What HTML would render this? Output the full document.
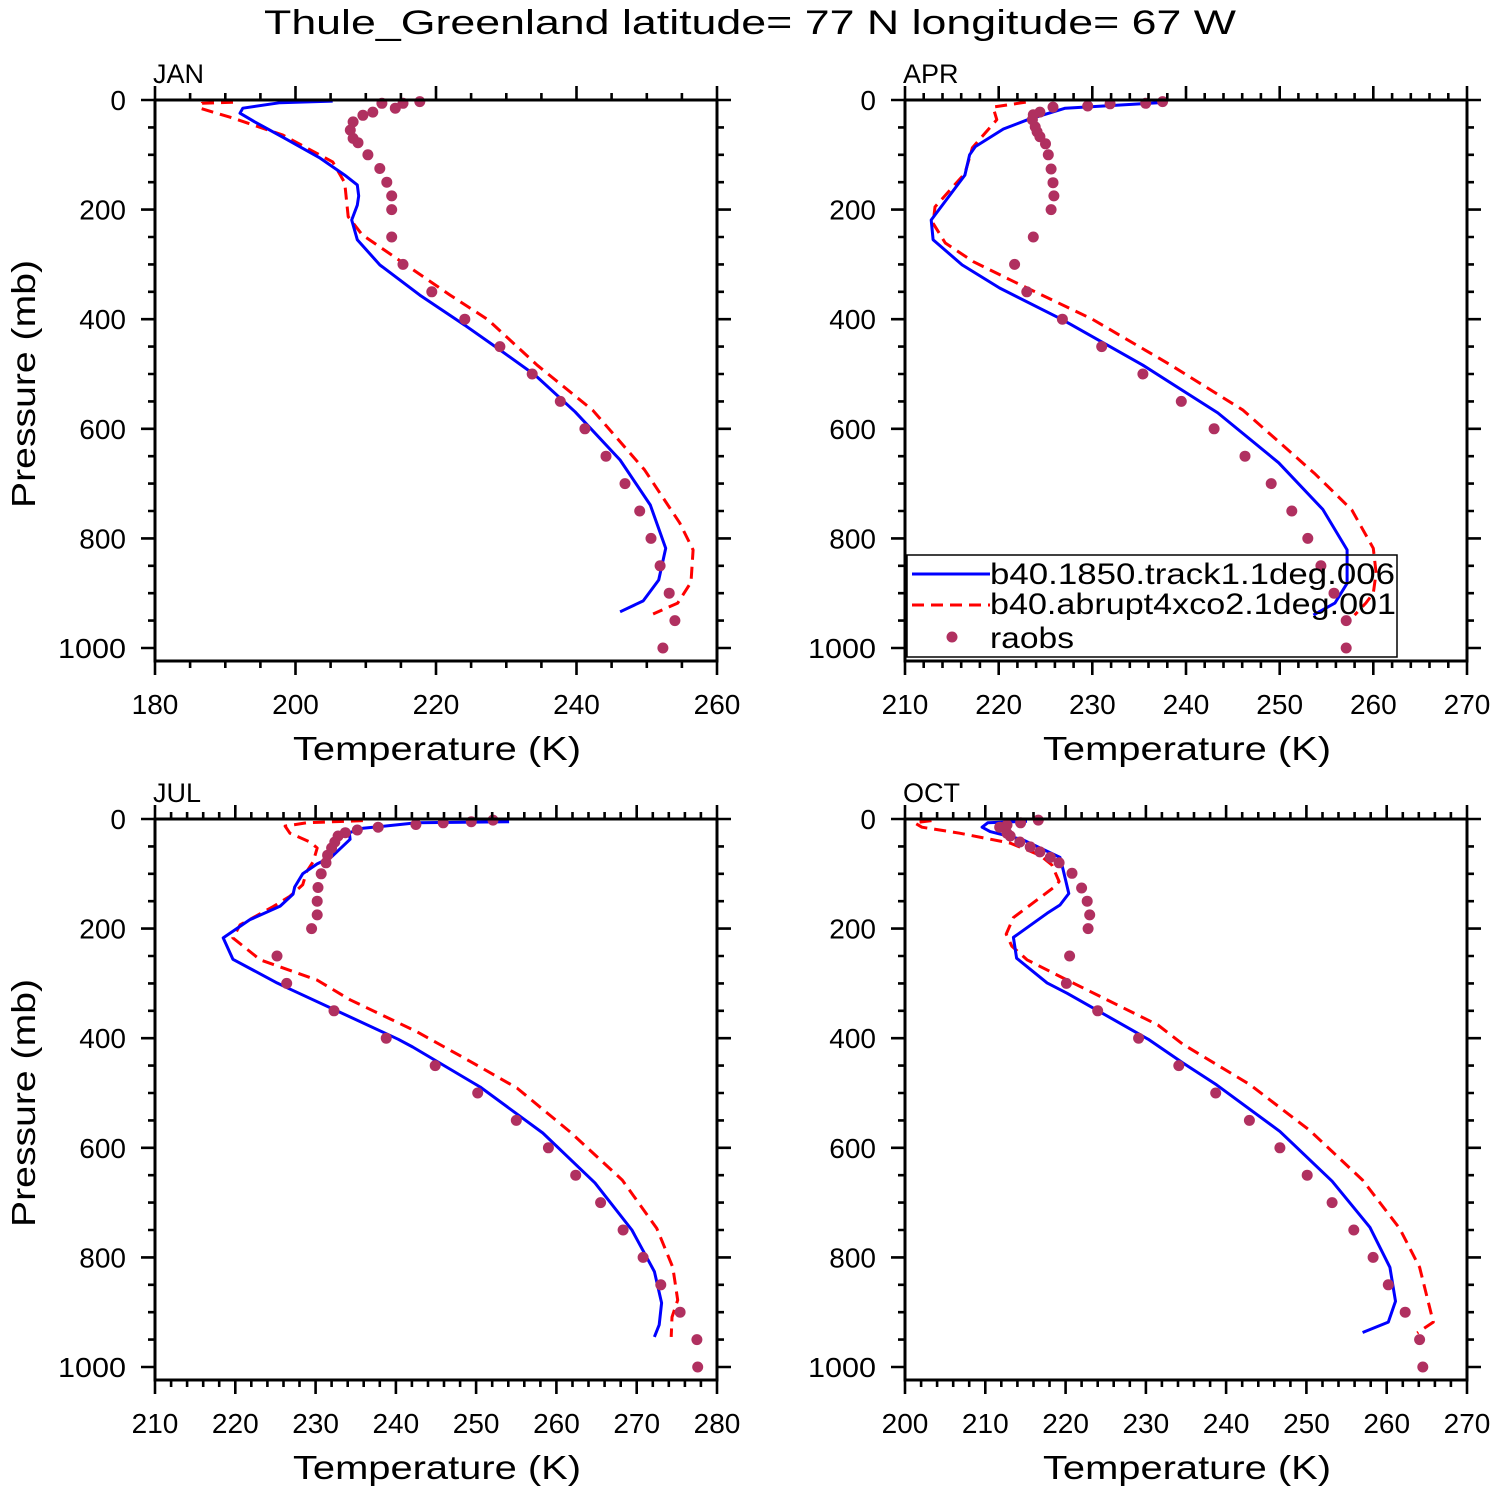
<!DOCTYPE html>
<html><head><meta charset="utf-8"><style>
html,body{margin:0;padding:0;background:#fff}
svg{display:block}
text{font-family:"Liberation Sans","DejaVu Sans",sans-serif;fill:#000}
</style></head><body>
<svg id="chart" width="1498" height="1492" viewBox="0 0 1498 1492" xmlns="http://www.w3.org/2000/svg">
<text x="750" y="34" font-size="34" text-anchor="middle" textLength="972" lengthAdjust="spacingAndGlyphs">Thule_Greenland  latitude= 77 N longitude= 67 W</text>
<g id="panels"></g>
</svg>
<script>
// JAN
const janBlueT=[205.3,197.8,192.5,192.1,194.2,198.5,203.5,207.0,208.8,209.0,208.8,208.0,208.8,212.0,217.7,224.1,229.1,234.1,239.8,246.2,250.5,252.7,251.7,249.5,246.2];
const janBlueP=[2,5,15,24,40,70,106,137,155,175,192,219,255,301,356,411,456,502,569,657,739,818,876,914,934];
const janRedT=[191.1,186.7,186.4,191.1,198.2,205.3,207.0,207.5,209.5,222.0,227.4,234.4,242.3,249.7,254.7,256.6,256.3,254.4,250.9];
const janRedP=[4,6,15,33,64,113,151,213,246,356,401,484,566,675,772,821,880,918,938];
const janObsT=[217.7,215.3,214.2,212.3,211.0,209.6,208.2,207.8,208.2,208.9,210.3,212.0,213.0,213.7,213.7,213.7,215.3,219.4,224.1,229.1,233.7,237.7,241.2,244.2,246.9,249.0,250.6,251.9,253.2,254.0,252.3];
const janObsP=[3,6,15,6,22,28,40,55,70,78,100,125,150,175,200,250,300,350,400,450,500,550,600,650,700,750,800,850,900,950,1000];
// APR
const aprBlueT=[238.0,227.1,223.1,220.5,217.5,216.9,216.4,212.8,213.0,216.1,220.1,226.8,235.4,243.4,249.9,254.6,257.2,257.2,255.9,253.6];
const aprBlueP=[4,15,36,53,85,100,137,219,255,301,343,401,484,571,662,747,821,882,918,940];
const aprRedT=[222.9,219.4,219.8,217.2,216.4,213.2,213.0,214.3,217.3,221.2,230.0,238.4,246.1,253.7,257.7,260.0,260.3,260.0,259.2,258.0];
const aprRedP=[4,13,36,87,134,195,225,261,295,328,400,484,566,681,748,818,863,900,918,940];
const aprObsT=[237.5,235.7,231.9,229.5,225.8,224.4,223.7,223.6,223.9,224.1,224.4,225.0,225.3,225.6,225.8,225.9,225.6,223.7,221.7,223.0,226.8,231.0,235.4,239.5,243.0,246.3,249.1,251.3,253.0,254.4,255.8,257.1,257.1];
const aprObsP=[3,6,7,11,13,22,27,36,49,58,67,80,100,126,151,175,200,250,300,350,400,450,500,550,600,650,700,750,800,850,900,950,1000];
// JUL
const julBlueT=[254.1,242.6,235.9,234.2,234.3,232.0,230.2,228.4,227.4,227.2,225.6,221.8,218.5,219.7,225.2,226.6,240.3,242.1,250.5,258.3,264.8,269.4,272.2,273.1,272.8,272.2];
const julBlueP=[5,7,17,25,37,69,82,100,124,137,159,184,217,256,299,309,402,416,489,573,664,750,826,883,923,945];
const julRedT=[235.9,228.9,226.2,226.8,229.3,230.2,229.7,228.9,228.4,226.8,224.7,220.6,219.7,223.1,230.2,234.3,242.6,249.6,255.1,261.7,268.2,272.5,274.5,275.1,274.4,274.3];
const julRedP=[3,7,13,26,42,53,78,96,120,141,160,193,217,257,294,330,388,445,491,571,659,747,818,878,909,945];
const julObsT=[252.1,249.4,245.9,242.5,237.8,235.2,233.7,232.8,232.4,232.0,231.5,231.3,230.7,230.3,230.2,230.2,229.5,225.2,226.4,232.3,238.8,244.9,250.2,255.0,259.0,262.4,265.5,268.3,270.8,273.0,275.4,277.5,277.6];
const julObsP=[2,5,7,10,15,20,25,31,42,53,66,80,100,125,150,175,200,250,300,350,400,450,500,550,600,650,700,750,800,850,900,950,1000];
// OCT
const octBlueT=[215.2,210.3,209.6,210.6,214.7,219.3,219.7,220.4,219.3,217.7,213.5,213.9,217.7,220.2,230.3,234.6,238.8,246.7,253.2,257.9,260.4,261.1,260.2,257.0];
const octBlueP=[4,7,15,23,38,70,93,136,157,172,216,254,299,318,402,445,485,570,661,745,818,880,918,937];
const octRedT=[203.3,201.2,202.1,206.8,213.1,216.8,218.3,219.2,218.7,213.5,212.6,213.3,215.2,220.2,231.5,234.6,243.0,250.4,257.0,261.6,264.1,265.8,263.8];
const octRedP=[3,7,15,26,44,66,84,114,123,180,210,232,257,294,376,411,485,568,659,747,818,918,938];
const octObsT=[216.6,214.4,212.7,211.8,212.7,213.1,214.3,215.6,216.8,218.1,219.2,220.8,222.0,222.7,223.0,222.8,220.5,220.1,224.0,229.1,234.1,238.7,242.9,246.7,250.1,253.2,255.9,258.3,260.2,262.3,264.1,264.5];
const octObsP=[2,7,11,15,26,31,42,51,60,70,80,99,126,150,175,200,250,300,350,400,450,500,550,600,650,700,750,800,850,900,950,1000];
const yTickLabels=["0","200","400","600","800","1000"];

const NS='http://www.w3.org/2000/svg';
const root=document.getElementById('panels');
function mk(tag,attrs,parent){const e=document.createElementNS(NS,tag);for(const k in attrs)e.setAttribute(k,attrs[k]);(parent||root).appendChild(e);return e;}

const panels=[
 {name:'jan',label:'JAN',x0:155,y0:100,tmin:180,tmax:260,major:20,minor:5,blue:[janBlueT,janBlueP],red:[janRedT,janRedP],obs:[janObsT,janObsP],ylab:true},
 {name:'apr',label:'APR',x0:905,y0:100,tmin:210,tmax:270,major:10,minor:2,blue:[aprBlueT,aprBlueP],red:[aprRedT,aprRedP],obs:[aprObsT,aprObsP],ylab:false,legend:true},
 {name:'jul',label:'JUL',x0:155,y0:819,tmin:210,tmax:280,major:10,minor:2,blue:[julBlueT,julBlueP],red:[julRedT,julRedP],obs:[julObsT,julObsP],ylab:true},
 {name:'oct',label:'OCT',x0:905,y0:819,tmin:200,tmax:270,major:10,minor:2,blue:[octBlueT,octBlueP],red:[octRedT,octRedP],obs:[octObsT,octObsP],ylab:false}
];
const W=562,H=561,PS=0.548;

panels.forEach(pn=>{
 const g=mk('g',{});
 
 
 const xs=t=>pn.x0+(t-pn.tmin)*W/(pn.tmax-pn.tmin);
 const ys=p=>pn.y0+p*PS;
 const L=pn.x0,R=pn.x0+W,T=pn.y0,B=pn.y0+H;
 function line(arr,color,dash,nm){
  const pts=arr[0].map((t,i)=>xs(t).toFixed(1)+','+ys(arr[1][i]).toFixed(1)).join(' ');
  const a={points:pts,fill:'none',stroke:color,'stroke-width':3,'stroke-linejoin':'round'};
  if(dash)a['stroke-dasharray']=dash;
  const e=mk('polyline',a,g);
  
  
 }
 line(pn.red,'#ff0000','12 7',pn.name+'-abrupt4xco2-line');
 line(pn.blue,'#0000ff',null,pn.name+'-1850-line');
 pn.obs[0].forEach((t,i)=>{
  const c=mk('circle',{cx:xs(t).toFixed(1),cy:ys(pn.obs[1][i]).toFixed(1),r:5.5,fill:'#b03060'},g);
  
  
 });
 const fr=mk('rect',{x:L,y:T,width:W,height:H,fill:'none',stroke:'#000','stroke-width':3},g);
 
 
 let d='';
 for(let t=pn.tmin;t<=pn.tmax+1e-6;t+=pn.minor){
  const isM=Math.abs((t-pn.tmin)%pn.major)<1e-6||Math.abs((t-pn.tmin)%pn.major-pn.major)<1e-6;
  const len=isM?14:7,x=xs(t).toFixed(1);
  d+=`M${x},${B}v${len}M${x},${T}v${-len}`;
 }
 for(let p=0;p<=1000;p+=50){
  const isM=p%200===0,len=isM?14:7,y=ys(p).toFixed(1);
  d+=`M${L},${y}h${-len}M${R},${y}h${len}`;
 }
 const tk=mk('path',{d:d,stroke:'#000','stroke-width':2.6,fill:'none'},g);
 
 
 for(let t=pn.tmin;t<=pn.tmax+1e-6;t+=pn.major){
  const e=mk('text',{x:xs(t),y:B+53,'font-size':28,'text-anchor':'middle'},g);
  e.textContent=String(t);
  
  
 }
 yTickLabels.forEach((lb,i)=>{
  const e=mk('text',{x:L-29,y:ys(i*200)+10,'font-size':28,'text-anchor':'end'},g);
  e.textContent=lb;
  if(lb.length===4){e.setAttribute('textLength','68');e.setAttribute('lengthAdjust','spacingAndGlyphs');}
  
  
 });
 const xt=mk('text',{x:L+W/2+1,y:B+99,'font-size':33,'text-anchor':'middle',textLength:288,lengthAdjust:'spacingAndGlyphs'},g);
 xt.textContent='Temperature (K)';
 
 
 const pl=mk('text',{x:L-2,y:T-17,'font-size':27},g);
 pl.textContent=pn.label;
 
 
 if(pn.ylab){
  const cy=T+284;
  const yt=mk('text',{x:0,y:0,'font-size':33,'text-anchor':'middle',textLength:248,lengthAdjust:'spacingAndGlyphs',transform:`translate(35,${cy}) rotate(-90)`},g);
  yt.textContent='Pressure (mb)';
  
  
 }
 if(pn.legend){
  const lg=mk('g',{},g);
  
  
  mk('rect',{x:907,y:555,width:490,height:102,fill:'none',stroke:'#000','stroke-width':1.5},lg);
  const l1=mk('line',{x1:912,y1:574,x2:990,y2:574,stroke:'#0000ff','stroke-width':3},lg);
  
  
  const l2=mk('line',{x1:912,y1:605,x2:990,y2:605,stroke:'#ff0000','stroke-width':3,'stroke-dasharray':'12 7'},lg);
  
  
  const c=mk('circle',{cx:952,cy:637,r:5.5,fill:'#b03060'},lg);
  
  
  const labs=[['b40.1850.track1.1deg.006',584,'legend-entry-1850',405],['b40.abrupt4xco2.1deg.001',614,'legend-entry-abrupt4xco2',406],['raobs',648,'legend-entry-raobs',84]];
  labs.forEach(a=>{
   const e=mk('text',{x:990,y:a[1],'font-size':30,textLength:a[3],lengthAdjust:'spacingAndGlyphs'},lg);
   e.textContent=a[0];
   
   
  });
 }
});
</script>
</body></html>
